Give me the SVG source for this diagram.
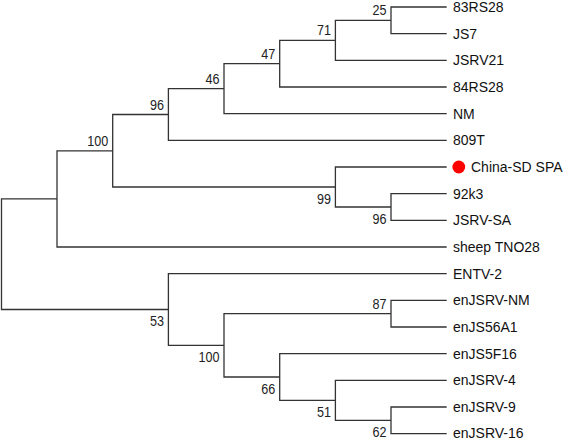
<svg xmlns="http://www.w3.org/2000/svg" width="567" height="440" viewBox="0 0 567 440">
<style>
.br{fill:none;stroke:#333;stroke-width:1.3}
.lf{font-family:"Liberation Sans",Arial,sans-serif;font-size:14px;fill:#111}
.bs{font-family:"Liberation Sans",Arial,sans-serif;font-size:14px;fill:#222;text-anchor:end}
</style>
<rect width="567" height="440" fill="#fff"/>
<g id="connectors">
<path class="br" d="M446.7 7 H391 V33.7 H446.7"/>
<path class="br" d="M391 20.3 H335.4 V60.3 H446.7"/>
<path class="br" d="M335.4 40.3 H279.7 V87 H446.7"/>
<path class="br" d="M279.7 63.7 H224 V113.7 H446.7"/>
<path class="br" d="M224 88.7 H168.4 V140.4 H446.7"/>
<path class="br" d="M446.7 193.7 H391 V220.4 H446.7"/>
<path class="br" d="M446.7 167 H335.4 V207 H391"/>
<path class="br" d="M168.4 114.5 H112.7 V187 H335.4"/>
<path class="br" d="M112.7 150.8 H57 V247 H446.7"/>
<path class="br" d="M446.7 300.4 H391 V327 H446.7"/>
<path class="br" d="M446.7 407 H391 V433.7 H446.7"/>
<path class="br" d="M446.7 380.4 H335.4 V420.4 H391"/>
<path class="br" d="M446.7 353.7 H279.7 V400.4 H335.4"/>
<path class="br" d="M391 313.7 H224 V377 H279.7"/>
<path class="br" d="M446.7 273.7 H168.4 V345.4 H224"/>
<path class="br" d="M57 198.9 H1.5 V309.5 H168.4"/>
</g>
<g id="bootstrap">
<text class="bs" x="386.5" y="15.3" textLength="14" lengthAdjust="spacingAndGlyphs">25</text>
<text class="bs" x="331" y="35.3" textLength="14" lengthAdjust="spacingAndGlyphs">71</text>
<text class="bs" x="275.2" y="58.7" textLength="14" lengthAdjust="spacingAndGlyphs">47</text>
<text class="bs" x="219.5" y="83.7" textLength="14" lengthAdjust="spacingAndGlyphs">46</text>
<text class="bs" x="164" y="109.5" textLength="14" lengthAdjust="spacingAndGlyphs">96</text>
<text class="bs" x="108.2" y="145.8" textLength="21" lengthAdjust="spacingAndGlyphs">100</text>
<text class="bs" x="331" y="203.5" textLength="14" lengthAdjust="spacingAndGlyphs">99</text>
<text class="bs" x="386.5" y="223.5" textLength="14" lengthAdjust="spacingAndGlyphs">96</text>
<text class="bs" x="386.5" y="308.7" textLength="14" lengthAdjust="spacingAndGlyphs">87</text>
<text class="bs" x="386.5" y="436.5" textLength="14" lengthAdjust="spacingAndGlyphs">62</text>
<text class="bs" x="331" y="416.9" textLength="14" lengthAdjust="spacingAndGlyphs">51</text>
<text class="bs" x="275.2" y="393.5" textLength="14" lengthAdjust="spacingAndGlyphs">66</text>
<text class="bs" x="219.5" y="361.9" textLength="21" lengthAdjust="spacingAndGlyphs">100</text>
<text class="bs" x="164" y="326" textLength="14" lengthAdjust="spacingAndGlyphs">53</text>
</g>
<g id="leaf-83RS28"><text class="lf" x="453" y="12">83RS28</text></g>
<g id="leaf-JS7"><text class="lf" x="453" y="38.7">JS7</text></g>
<g id="leaf-JSRV21"><text class="lf" x="453" y="65.3">JSRV21</text></g>
<g id="leaf-84RS28"><text class="lf" x="453" y="92">84RS28</text></g>
<g id="leaf-NM"><text class="lf" x="453" y="118.7">NM</text></g>
<g id="leaf-809T"><text class="lf" x="453" y="145.4">809T</text></g>
<g id="leaf-China-SD-SPA"><circle cx="458.8" cy="167" r="6.4" fill="#f00"/><text class="lf" x="471" y="172">China-SD SPA</text></g>
<g id="leaf-92k3"><text class="lf" x="453" y="198.7">92k3</text></g>
<g id="leaf-JSRV-SA"><text class="lf" x="453" y="225.4">JSRV-SA</text></g>
<g id="leaf-sheep-TNO28"><text class="lf" x="453" y="252">sheep TNO28</text></g>
<g id="leaf-ENTV-2"><text class="lf" x="453" y="278.7">ENTV-2</text></g>
<g id="leaf-enJSRV-NM"><text class="lf" x="453" y="305.4">enJSRV-NM</text></g>
<g id="leaf-enJS56A1"><text class="lf" x="453" y="332">enJS56A1</text></g>
<g id="leaf-enJS5F16"><text class="lf" x="453" y="358.7">enJS5F16</text></g>
<g id="leaf-enJSRV-4"><text class="lf" x="453" y="385.4">enJSRV-4</text></g>
<g id="leaf-enJSRV-9"><text class="lf" x="453" y="412">enJSRV-9</text></g>
<g id="leaf-enJSRV-16"><text class="lf" x="453" y="437.5">enJSRV-16</text></g>
</svg>
